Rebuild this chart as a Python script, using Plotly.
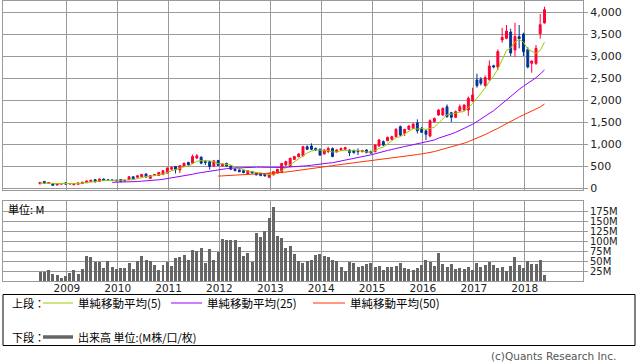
import plotly.graph_objects as go
import pandas as pd

# ---------------- data ----------------
start_month = "2008-07-01"
n_months = 120
# closes before the first visible month (used only for moving averages)
pre_close = [165, 150, 140, 125, 110, 100, 95]

opens = [95, 150, 105, 100, 68, 88, 115, 90, 72, 85, 100, 120, 145, 190, 150, 205, 188, 182, 178, 195,
         175, 195, 255, 245, 260, 320, 220, 285, 285, 305, 340, 430, 490, 410, 490, 580, 565, 680, 700, 600,
         600, 500, 625, 505, 560, 500, 430, 410, 395, 320, 375, 350, 335, 310, 245, 298, 335, 350, 525, 490,
         650, 710, 730, 940, 955, 900, 880, 775, 830, 900, 825, 865, 880, 865, 850, 848, 826, 865, 830, 826,
         955, 1055, 1076, 1106, 1167, 1395, 1242, 1333, 1356, 1480, 1356, 1300, 1182, 1508, 1659, 1659, 1848, 1712, 1606, 1750,
         1773, 1773, 1977, 2455, 2470, 2330, 2460, 2780, 2750, 3364, 3402, 3545, 3136, 3440, 3500, 3150, 2833, 2833, 3508, 3750]
highs = [135, 158, 130, 105, 105, 108, 135, 110, 100, 120, 140, 170, 185, 200, 215, 215, 200, 195, 190, 205,
         190, 270, 265, 290, 320, 330, 290, 320, 365, 400, 465, 490, 500, 520, 575, 600, 760, 770, 720, 640,
         620, 630, 640, 560, 575, 520, 445, 420, 405, 400, 390, 360, 345, 320, 340, 380, 430, 570, 620, 690,
         730, 790, 960, 970, 1015, 920, 900, 880, 940, 920, 880, 920, 935, 880, 870, 900, 870, 880, 850, 990,
         1110, 1080, 1170, 1190, 1360, 1420, 1345, 1430, 1480, 1560, 1390, 1320, 1560, 1600, 1790, 1830, 1900, 1730, 1760, 1900,
         1900, 2080, 2280, 2600, 2520, 2560, 2900, 2800, 3150, 3640, 3705, 3620, 3757, 3705, 3530, 3200, 2900, 3250, 3955, 4120]
lows = [88, 100, 95, 55, 60, 80, 80, 82, 65, 80, 95, 115, 135, 130, 145, 160, 160, 165, 150, 140,
        150, 185, 200, 235, 250, 240, 210, 275, 280, 295, 330, 400, 330, 340, 480, 510, 555, 660, 540, 520,
        420, 480, 500, 490, 490, 415, 380, 360, 335, 300, 330, 290, 270, 262, 225, 290, 325, 340, 500, 480,
        640, 700, 720, 860, 860, 840, 730, 760, 790, 700, 800, 840, 860, 725, 780, 750, 810, 790, 770, 810,
        940, 950, 1060, 1090, 1150, 1180, 1180, 1320, 1340, 1240, 1250, 1090, 1150, 1490, 1640, 1640, 1600, 1500, 1590, 1740,
        1760, 1640, 1960, 2280, 2330, 2300, 2440, 2720, 2680, 3300, 3380, 3000, 2985, 3174, 3000, 2720, 2621, 2800, 3394, 3740]
closes = [128, 108, 125, 62, 98, 102, 92, 102, 95, 115, 132, 160, 178, 140, 205, 170, 172, 176, 168, 150,
          165, 255, 210, 278, 310, 250, 282, 305, 355, 395, 455, 465, 420, 505, 565, 530, 715, 735, 565, 580,
          490, 620, 515, 545, 500, 425, 395, 370, 350, 395, 342, 298, 282, 275, 335, 372, 425, 560, 600, 675,
          715, 775, 940, 880, 880, 865, 750, 865, 900, 715, 865, 900, 918, 805, 805, 828, 848, 803, 800, 977,
          1091, 977, 1150, 1167, 1333, 1205, 1333, 1409, 1454, 1300, 1265, 1220, 1530, 1583, 1773, 1810, 1621, 1606, 1735, 1848,
          1886, 2038, 2114, 2326, 2379, 2510, 2773, 2750, 3100, 3424, 3568, 3068, 3440, 3394, 3100, 2750, 2886, 3174, 3712, 4053]
# volume in millions
volume = [23, 23, 28, 18, 15, 7, 12, 20, 28, 18, 30, 62, 60, 48, 48, 32, 50, 36, 30, 32,
          32, 45, 30, 49, 62, 52, 51, 40, 28, 40, 48, 38, 58, 60, 65, 52, 77, 75, 82, 46,
          80, 52, 72, 105, 102, 102, 102, 85, 62, 70, 48, 120, 110, 125, 157, 185, 112, 107, 82, 87,
          67, 49, 46, 49, 52, 65, 67, 62, 60, 52, 49, 35, 24, 47, 45, 35, 37, 42, 45, 35,
          37, 27, 35, 35, 37, 45, 32, 30, 27, 32, 40, 52, 47, 37, 70, 42, 35, 42, 30, 32,
          30, 35, 27, 45, 35, 40, 47, 40, 32, 35, 25, 37, 60, 40, 32, 50, 42, 42, 52, 15]

years = list(range(2009, 2019))
price_ticks = list(range(0, 4001, 500))
volume_ticks = [25, 50, 75, 100, 125, 150, 175]
ma_periods = [5, 25, 50]
ma_colors = ["#99cc00", "#9900ff", "#ff3300"]
legend_upper_label = "上段："
legend_lower_label = "下段："
ma_labels = ["単純移動平均(5)", "単純移動平均(25)", "単純移動平均(50)"]
volume_label = "出来高 単位:(M株/口/枚)"
unit_label = "単位: M"
credit = "(c)Quants Research Inc."

# ---------------- derived ----------------
dates = pd.date_range(start_month, periods=n_months, freq="MS")
all_close = pd.Series(pre_close + closes)
n_pre = len(pre_close)
mas = []
for p in ma_periods:
    m = all_close.rolling(p).mean().iloc[n_pre:].tolist()
    mas.append([None if pd.isna(v) else v for v in m])

W, H = 638, 362
L, R, T, B = 3, 583, 1, 281
plot_w, plot_h = R - L, B - T


def px(x):
    return (x - L) / plot_w


def py(y):
    return (B - y) / plot_h


day_per_px = 30.44 / 4.24
base = pd.Timestamp(start_month)
x_range = [base - pd.Timedelta(days=(40 - L) * day_per_px),
           base + pd.Timedelta(days=(R - 40) * day_per_px)]
grid_vals = [f"{y}-01-10" for y in years]

UP, DOWN = "#ff0033", "#003399"
GRID = "#9a9a9a"
FONT = "DejaVu Sans, Noto Sans CJK JP, sans-serif"
CJK = "Noto Sans CJK JP, DejaVu Sans, sans-serif"

fig = go.Figure()
fig.add_trace(go.Candlestick(
    x=dates, open=opens, high=highs, low=lows, close=closes,
    increasing=dict(line=dict(color=UP, width=1), fillcolor=UP),
    decreasing=dict(line=dict(color=DOWN, width=1), fillcolor=DOWN),
    whiskerwidth=0, xaxis="x", yaxis="y", showlegend=False))
for m, c in zip(mas, ma_colors):
    fig.add_trace(go.Scatter(x=dates, y=m, mode="lines", line=dict(color=c, width=1),
                             xaxis="x", yaxis="y", showlegend=False, connectgaps=False))
fig.add_trace(go.Bar(x=dates, y=volume, marker=dict(color="#666666", line=dict(width=0)),
                     width=21.5 * 86400000, xaxis="x2", yaxis="y2", showlegend=False))

top_dom = [py(190), 1]
bot_dom = [0, py(201)]

axis_common = dict(showgrid=True, gridcolor=GRID, gridwidth=1, showline=True, linecolor=GRID,
                   linewidth=1, mirror=True, zeroline=False)

fig.update_layout(
    width=W, height=H, margin=dict(l=L, r=W - R, t=T, b=H - B),
    paper_bgcolor="white", plot_bgcolor="white",
    font=dict(family=FONT, size=11, color="#222"),
    bargap=0,
    xaxis=dict(domain=[0, 1], anchor="y", type="date", range=x_range, tickvals=grid_vals,
               showticklabels=False, ticks="", rangeslider=dict(visible=False), **axis_common),
    yaxis=dict(domain=top_dom, anchor="x", range=[-45, 4250], side="right", tickvals=price_ticks,
               tickformat=",", ticks="outside", ticklen=4, tickcolor=GRID,
               tickfont=dict(size=11), **axis_common),
    xaxis2=dict(domain=[0, 1], anchor="y2", type="date", matches="x", range=x_range,
                tickvals=grid_vals, ticktext=[str(y) for y in years], ticks="",
                ticklabelstandoff=-3, tickfont=dict(size=10.5), **axis_common),
    yaxis2=dict(domain=bot_dom, anchor="x2", range=[0, 200], side="right", tickvals=volume_ticks,
                ticktext=[f"{v}M" for v in volume_ticks], ticks="outside", ticklen=4, tickcolor=GRID,
                tickfont=dict(size=10), **axis_common),
)

shapes = []
annotations = []
# legend box
shapes.append(dict(type="rect", xref="paper", yref="paper", x0=px(3), x1=px(635), y0=py(294.5), y1=py(345.5),
                   line=dict(color="#000", width=1), fillcolor="rgba(0,0,0,0)"))
row1, row2 = 303, 337
annotations.append(dict(text=legend_upper_label, x=px(10), y=py(row1), xref="paper", yref="paper",
                        xanchor="left", yanchor="middle", showarrow=False, font=dict(family=CJK, size=11, color="#000")))
annotations.append(dict(text=legend_lower_label, x=px(10), y=py(row2), xref="paper", yref="paper",
                        xanchor="left", yanchor="middle", showarrow=False, font=dict(family=CJK, size=11, color="#000")))
line_x = [(43, 73), (171, 202), (313, 345)]
for (a, b), c, lab in zip(line_x, ma_colors, ma_labels):
    shapes.append(dict(type="line", xref="paper", yref="paper", x0=px(a), x1=px(b), y0=py(row1), y1=py(row1),
                       line=dict(color=c, width=1)))
    annotations.append(dict(text=lab, x=px(b + 3), y=py(row1), xref="paper", yref="paper",
                            xanchor="left", yanchor="middle", showarrow=False,
                            font=dict(family=CJK, size=11.5, color="#000")))
shapes.append(dict(type="line", xref="paper", yref="paper", x0=px(43), x1=px(73), y0=py(row2), y1=py(row2),
                   line=dict(color="#666666", width=3.5)))
annotations.append(dict(text=volume_label, x=px(76), y=py(row2), xref="paper", yref="paper",
                        xanchor="left", yanchor="middle", showarrow=False, font=dict(family=CJK, size=11, color="#000")))
annotations.append(dict(text=unit_label, x=px(6), y=py(209), xref="paper", yref="paper",
                        xanchor="left", yanchor="middle", showarrow=False, font=dict(family=CJK, size=11, color="#000")))
annotations.append(dict(text=credit, x=px(618), y=py(356), xref="paper", yref="paper",
                        xanchor="right", yanchor="middle", showarrow=False, font=dict(family=FONT, size=10.5, color="#555")))
fig.update_layout(shapes=shapes, annotations=annotations)

fig.write_html("out.html", config={"displayModeBar": False},
               post_script="document.body.style.margin='0';document.body.style.padding='0';")
